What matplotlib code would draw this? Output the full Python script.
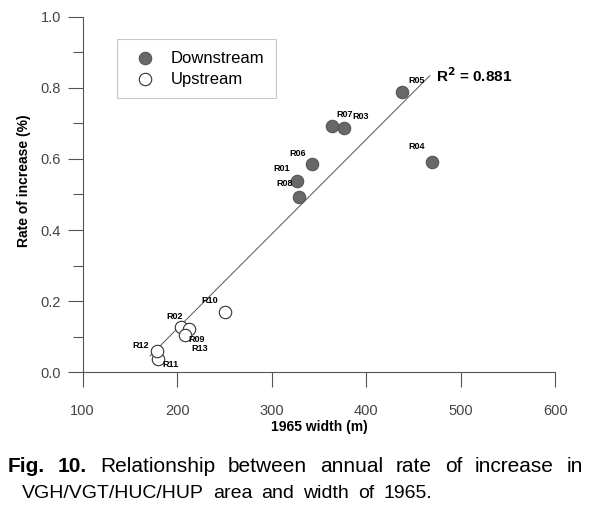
import numpy as np
import matplotlib
matplotlib.use("Agg")
import matplotlib.pyplot as plt
from matplotlib.ticker import MultipleLocator

plt.rcParams['font.family'] = ['Liberation Sans', 'DejaVu Sans']

# ---- data ----
site_names = ['R01', 'R02', 'R03', 'R04', 'R05', 'R06', 'R07',
              'R08', 'R09', 'R10', 'R11', 'R12', 'R13']
width_1965 = [327.0, 204.0, 376.8, 469.3, 438.2, 343.0, 363.5,
              328.9, 212.8, 250.3, 179.3, 178.3, 208.3]
rate_increase = [0.539, 0.128, 0.687, 0.592, 0.787, 0.585, 0.693,
                 0.494, 0.123, 0.169, 0.038, 0.060, 0.105]
reach = ['Downstream', 'Upstream', 'Downstream', 'Downstream', 'Downstream',
         'Downstream', 'Downstream', 'Downstream', 'Upstream', 'Upstream',
         'Upstream', 'Upstream', 'Upstream']
r_squared = 0.881

# label offsets (points) and alignment for each site label
label_style = {
    'R01': ((-5.3, 9.0), 'right'), 'R02': ((1.2, 7.7), 'right'),
    'R03': ((6.0, 8.6), 'left'), 'R04': ((-4.8, 10.8), 'right'),
    'R05': ((4.3, 8.4), 'left'), 'R06': ((-4.5, 7.9), 'right'),
    'R07': ((3.6, 7.9), 'left'), 'R08': ((-4.8, 9.1), 'right'),
    'R09': ((-0.4, -7.6), 'left'), 'R10': ((-4.6, 8.1), 'right'),
    'R11': ((3.6, -3.8), 'left'), 'R12': ((-5.3, 3.6), 'right'),
    'R13': ((4.8, -9.6), 'left'),
}

x = np.array(width_1965)
y = np.array(rate_increase)
down = np.array([r == 'Downstream' for r in reach])

fig = plt.figure(figsize=(5.94, 5.12), dpi=100)
ax = fig.add_axes([0.1392, 0.2729, 0.7957, 0.6945])

gray = '#555555'
ax.scatter(x[down], y[down], s=80, facecolor='#686868', edgecolor='#555555',
           linewidth=0.8, label='Downstream', zorder=3)
ax.scatter(x[~down], y[~down], s=80, facecolor='white', edgecolor='#333333',
           linewidth=0.8, label='Upstream', zorder=3)

# regression line
slope, icpt = np.polyfit(x, y, 1)
xl = np.array([x.min() - 7, x.max() - 2])
ax.plot(xl, slope * xl + icpt, color='#555555', linewidth=0.7, zorder=2)

ax.text(xl[1] + 6, slope * xl[1] + icpt, 'R$^\\mathbf{2}$ = %.3f' % r_squared,
        fontsize=11, fontweight='bold', ha='left', va='center')

for name, xi, yi in zip(site_names, x, y):
    off, ha = label_style[name]
    ax.annotate(name, (xi, yi), xytext=off, textcoords='offset points',
                ha=ha, va='center', fontsize=6.5, fontweight='bold')

ax.set_xlim(100, 600)
ax.set_ylim(0, 1.0)
ax.xaxis.set_major_locator(MultipleLocator(100))
ax.yaxis.set_major_locator(MultipleLocator(0.2))
ax.yaxis.set_minor_locator(MultipleLocator(0.1))
ax.yaxis.set_major_formatter(plt.FormatStrFormatter('%.1f'))
for s in ['top', 'right']:
    ax.spines[s].set_visible(False)
for s in ['left', 'bottom']:
    ax.spines[s].set_color(gray)
    ax.spines[s].set_linewidth(0.8)
ax.tick_params(axis='both', which='major', direction='out', length=10.5,
               width=0.8, color=gray, labelsize=10.5, labelcolor='#444444')
ax.tick_params(axis='x', pad=12)
ax.tick_params(axis='y', which='minor', direction='out', length=7,
               width=0.8, color=gray)
ax.tick_params(axis='y', pad=5)

ax.set_xlabel('1965 width (m)', fontsize=10, fontweight='bold', labelpad=2)
ax.set_ylabel('Rate of increase (%)', fontsize=10, fontweight='bold')
ax.yaxis.set_label_coords(-0.11, 0.54)

leg = ax.legend(loc='upper left', bbox_to_anchor=(0.0732, 0.937), frameon=True,
                fancybox=False, fontsize=12, handletextpad=0.6,
                borderpad=0.7, labelspacing=0.35, scatterpoints=1,
                borderaxespad=0, handlelength=1.9)
leg.get_frame().set_edgecolor('#bbbbbb')
leg.get_frame().set_linewidth(0.8)


# caption, justified line by line
def justify(words, x0, x1, ypix, weights, size):
    r = fig.canvas.get_renderer()
    W = fig.bbox.width
    H = fig.bbox.height
    items = []
    for w, wt in zip(words, weights):
        t = fig.text(0, 1 - ypix / H, w, fontsize=size, fontweight=wt,
                     va='center', ha='left')
        items.append(t)
    widths = [t.get_window_extent(r).width for t in items]
    gap = (x1 - x0 - sum(widths)) / (len(words) - 1)
    pos = x0
    for t, wd in zip(items, widths):
        t.set_x(pos / W)
        pos += wd + gap


line1 = ['Fig.', '10.', 'Relationship', 'between', 'annual', 'rate', 'of',
         'increase', 'in']
justify(line1, 8, 583, 467, ['bold', 'bold'] + ['normal'] * 7, 15)
line2 = ['VGH/VGT/HUC/HUP', 'area', 'and', 'width', 'of', '1965.']
justify(line2, 22, 432, 493, ['normal'] * 6, 14)

fig.savefig('out.png', dpi=100)
